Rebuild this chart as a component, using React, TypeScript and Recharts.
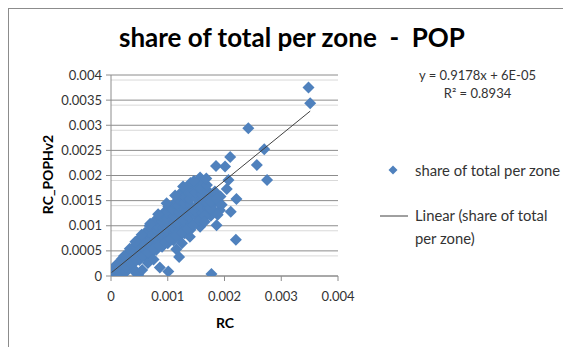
import React from 'react'
import {
  ScatterChart,
  Scatter,
  XAxis,
  YAxis,
  CartesianGrid,
  Legend
} from 'recharts'

// RC (x) and RC_POPHv2 (y) per zone
const rc = [
  0.1e-4, 0.3e-4, 0.2e-4, 0.5e-4, 0.6e-4, 1.0e-4, 1.1e-4, 0.9e-4, 1.3e-4, 2.0e-4,
  2.1e-4, 1.9e-4, 2.2e-4, 3.0e-4, 3.1e-4, 2.9e-4, 3.2e-4, 4.0e-4, 4.1e-4, 3.9e-4,
  4.2e-4, 3.9e-4, 4.8e-4, 5.0e-4, 5.1e-4, 4.9e-4, 5.2e-4, 5.0e-4, 6.0e-4, 6.1e-4,
  5.9e-4, 6.2e-4, 6.0e-4, 7.0e-4, 7.1e-4, 6.9e-4, 7.2e-4, 7.0e-4, 6.8e-4, 8.0e-4,
  8.1e-4, 7.9e-4, 8.2e-4, 8.0e-4, 7.9e-4, 8.6e-4, 9.0e-4, 9.1e-4, 8.9e-4, 9.2e-4,
  9.0e-4, 8.9e-4, 9.3e-4, 10.0e-4, 10.1e-4, 9.9e-4, 10.2e-4, 10.0e-4, 9.9e-4, 10.1e-4,
  10.1e-4, 11.0e-4, 11.1e-4, 10.9e-4, 11.2e-4, 11.0e-4, 10.9e-4, 11.1e-4, 11.5e-4, 12.0e-4,
  12.1e-4, 11.9e-4, 12.2e-4, 12.0e-4, 11.9e-4, 12.1e-4, 12.0e-4, 12.0e-4, 12.5e-4, 13.0e-4,
  13.1e-4, 12.9e-4, 13.2e-4, 13.0e-4, 12.9e-4, 13.1e-4, 13.0e-4, 14.0e-4, 14.1e-4, 13.9e-4,
  14.2e-4, 14.0e-4, 13.9e-4, 14.1e-4, 14.0e-4, 13.9e-4, 14.0e-4, 15.0e-4, 15.1e-4, 14.9e-4,
  15.2e-4, 15.0e-4, 14.9e-4, 15.1e-4, 15.7e-4, 15.7e-4, 16.0e-4, 16.1e-4, 15.9e-4, 16.2e-4,
  16.0e-4, 15.9e-4, 16.3e-4, 17.0e-4, 17.1e-4, 16.9e-4, 17.2e-4, 17.0e-4, 16.9e-4, 17.6e-4,
  18.0e-4, 18.1e-4, 17.9e-4, 18.3e-4, 18.6e-4, 18.5e-4, 17.7e-4, 19.2e-4, 19.0e-4, 19.3e-4,
  20.1e-4, 21.0e-4, 20.7e-4, 20.4e-4, 22.1e-4, 21.1e-4, 22.0e-4, 24.2e-4, 25.7e-4, 27.0e-4,
  27.5e-4, 34.8e-4, 35.1e-4, 1.6e-4, 2.6e-4, 4.4e-4, 5.5e-4, 6.5e-4, 7.5e-4,
  // upper fringe of the dense band
  6.9e-4, 9.8e-4, 12.7e-4, 11.3e-4, 8.3e-4, 5.4e-4, 4.3e-4, 3.3e-4, 2.3e-4, 1.4e-4,
  14.6e-4, 16.8e-4,
  // inside / lower part of the band
  2.5e-4, 3.5e-4, 4.5e-4, 5.5e-4, 6.5e-4, 7.5e-4, 8.5e-4, 9.5e-4, 10.5e-4, 11.5e-4,
  12.5e-4, 13.5e-4, 14.5e-4, 15.5e-4, 16.5e-4, 17.5e-4, 17.6e-4, 18.6e-4, 19.5e-4, 18.8e-4,
  16.5e-4
]

const popHv2 = [
  0.2e-4, 0.6e-4, 1.0e-4, 0.1e-4, 0.9e-4, 0.6e-4, 1.5e-4, 2.2e-4, 0.3e-4, 1.3e-4,
  2.4e-4, 3.4e-4, 0.5e-4, 1.9e-4, 3.0e-4, 4.2e-4, 4.8e-4, 2.6e-4, 3.7e-4, 4.9e-4,
  6.0e-4, 1.5e-4, 0.2e-4, 3.2e-4, 4.4e-4, 5.6e-4, 6.8e-4, 7.4e-4, 3.9e-4, 5.1e-4,
  6.3e-4, 7.5e-4, 8.6e-4, 4.5e-4, 5.8e-4, 7.0e-4, 8.2e-4, 9.4e-4, 10.0e-4, 5.2e-4,
  6.5e-4, 7.7e-4, 8.9e-4, 10.1e-4, 11.2e-4, 1.7e-4, 5.8e-4, 7.1e-4, 8.4e-4, 9.6e-4,
  10.8e-4, 12.0e-4, 12.6e-4, 6.5e-4, 7.8e-4, 9.0e-4, 10.2e-4, 11.4e-4, 12.6e-4, 13.8e-4,
  0.9e-4, 7.1e-4, 8.4e-4, 9.6e-4, 10.8e-4, 12.0e-4, 13.2e-4, 14.4e-4, 5.3e-4, 7.8e-4,
  9.1e-4, 10.3e-4, 11.5e-4, 12.7e-4, 13.9e-4, 15.1e-4, 16.2e-4, 3.8e-4, 6.5e-4, 8.5e-4,
  9.8e-4, 11.0e-4, 12.2e-4, 13.4e-4, 14.6e-4, 15.8e-4, 17.2e-4, 9.2e-4, 10.5e-4, 11.7e-4,
  12.9e-4, 14.1e-4, 15.3e-4, 16.5e-4, 17.7e-4, 7.8e-4, 18.5e-4, 10.6e-4, 11.8e-4, 13.0e-4,
  14.2e-4, 15.4e-4, 16.6e-4, 17.8e-4, 19.6e-4, 9.8e-4, 11.4e-4, 12.6e-4, 13.8e-4, 15.0e-4,
  16.2e-4, 17.4e-4, 18.6e-4, 12.2e-4, 13.4e-4, 14.6e-4, 15.8e-4, 17.0e-4, 18.1e-4, 12.0e-4,
  13.2e-4, 14.4e-4, 15.6e-4, 16.8e-4, 10.1e-4, 21.9e-4, 0.4e-4, 13.1e-4, 14.6e-4, 15.8e-4,
  21.8e-4, 23.7e-4, 19.1e-4, 17.3e-4, 15.3e-4, 12.8e-4, 7.2e-4, 29.4e-4, 22.1e-4, 25.2e-4,
  19.1e-4, 37.5e-4, 34.4e-4, 0.1e-4, 0.8e-4, 0.6e-4, 1.2e-4, 2.6e-4, 3.3e-4,
  10.4e-4, 14.5e-4, 17.8e-4, 16.0e-4, 12.3e-4, 8.2e-4, 6.8e-4, 5.4e-4, 4.0e-4, 2.6e-4,
  18.9e-4, 19.4e-4,
  1.8e-4, 2.5e-4, 3.2e-4, 4.0e-4, 4.7e-4, 5.3e-4, 6.0e-4, 6.6e-4, 7.3e-4, 8.0e-4,
  8.7e-4, 9.4e-4, 10.1e-4, 11.0e-4, 12.0e-4, 13.5e-4, 14.8e-4, 15.3e-4, 14.2e-4, 12.2e-4,
  10.8e-4
]

const xTicks = [0, 0.001, 0.002, 0.003, 0.004]
const yTicks = [0, 0.0005, 0.001, 0.0015, 0.002, 0.0025, 0.003, 0.0035, 0.004]
const yMinor = [
  0.0001, 0.0002, 0.0003, 0.0004, 0.0006, 0.0007, 0.0008, 0.0009,
  0.0011, 0.0012, 0.0013, 0.0014, 0.0016, 0.0017, 0.0018, 0.0019,
  0.0021, 0.0022, 0.0023, 0.0024, 0.0026, 0.0027, 0.0028, 0.0029,
  0.0031, 0.0032, 0.0033, 0.0034, 0.0036, 0.0037, 0.0038, 0.0039
]

const slope = 0.9178
const intercept = 6e-5

const BLUE = '#4f81bd'
const TEXT = '#333'

const points = rc.map((x, i) => ({ x, y: popHv2[i] }))
const xMin = Math.min(...rc)
const xMax = Math.max(...rc)
const trend = [
  { x: xMin, y: slope * xMin + intercept },
  { x: xMax, y: slope * xMax + intercept }
]

function Diamond({ cx, cy }: { cx?: number; cy?: number }): React.JSX.Element | null {
  if (cx == null || cy == null) return null
  const r = 6
  return (
    <polygon
      points={`${cx},${cy - r} ${cx + r},${cy} ${cx},${cy + r} ${cx - r},${cy}`}
      fill={BLUE}
    />
  )
}

function LegendBox(): React.JSX.Element {
  return (
    <div style={{ position: 'relative', width: 200, height: 95, fontSize: 14.8, color: TEXT }}>
      <svg width={36} height={95} style={{ position: 'absolute', left: 0, top: 0 }}>
        <polygon points="18,2.5 22.5,7 18,11.5 13.5,7" fill={BLUE} />
        <line x1={5} y1={53} x2={33} y2={53} stroke="#404040" strokeWidth={1} />
      </svg>
      <div style={{ position: 'absolute', left: 40, top: -2, whiteSpace: 'nowrap' }}>
        share of total per zone
      </div>
      <div style={{ position: 'absolute', left: 40, top: 41, lineHeight: '23px', whiteSpace: 'nowrap' }}>
        Linear (share of total<br />per zone)
      </div>
    </div>
  )
}

export default function App(): React.JSX.Element {
  return (
    <div
      style={{
        position: 'relative',
        width: 563,
        height: 339,
        boxSizing: 'border-box',
        borderTop: '1px solid #8c8c8c',
        borderLeft: '1px solid #8c8c8c',
        fontFamily: 'Lato, sans-serif',
        overflow: 'hidden'
      }}
    >
      {/* Title */}
      <div
        style={{
          position: 'absolute',
          left: 0,
          width: 566,
          top: 12,
          textAlign: 'center',
          fontSize: 26,
          fontWeight: 'bold',
          color: '#000',
          whiteSpace: 'pre'
        }}
      >
        {'share of total per zone  -  POP'}
      </div>

      <div style={{ position: 'absolute', left: 0, top: 0 }}>
        <ScatterChart
          width={562}
          height={338}
          margin={{ top: 66, right: 233, bottom: 41, left: 42 }}
        >
          <CartesianGrid
            horizontal
            vertical={false}
            horizontalValues={yMinor}
            stroke="#d9d9d9"
          />
          <CartesianGrid
            horizontal
            vertical={false}
            horizontalValues={yTicks}
            stroke="#8c8c8c"
          />
          <XAxis
            type="number"
            dataKey="x"
            domain={[0, 0.004]}
            ticks={xTicks}
            height={30}
            tickSize={5}
            tickMargin={11}
            stroke="#8c8c8c"
            tick={{ fill: TEXT, fontSize: 13 }}
            allowDataOverflow
          />
          <YAxis
            type="number"
            dataKey="y"
            domain={[0, 0.004]}
            ticks={yTicks}
            width={60}
            tickSize={5}
            tickMargin={4}
            stroke="#8c8c8c"
            tick={{ fill: TEXT, fontSize: 13 }}
            allowDataOverflow
          />
          <Legend
            verticalAlign="middle"
            align="center"
            layout="horizontal"
            wrapperStyle={{ left: 366, top: 154, width: 200 }}
            content={() => <LegendBox />}
          />
          <Scatter
            name="share of total per zone"
            data={points}
            fill={BLUE}
            shape={<Diamond />}
            isAnimationActive={false}
          />
          <Scatter
            name="Linear (share of total per zone)"
            data={trend}
            line={{ stroke: '#404040', strokeWidth: 1 }}
            shape={() => <g />}
            isAnimationActive={false}
          />
        </ScatterChart>
      </div>

      {/* Trendline equation */}
      <div
        style={{
          position: 'absolute',
          left: 406,
          width: 125,
          top: 57,
          textAlign: 'center',
          fontSize: 13,
          lineHeight: '18px',
          color: TEXT,
          whiteSpace: 'nowrap'
        }}
      >
        y = 0.9178x + 6E-05
        <br />
        R² = 0.8934
      </div>

      {/* Axis titles */}
      <div
        style={{
          position: 'absolute',
          left: 216 - 30,
          width: 60,
          top: 305,
          textAlign: 'center',
          fontSize: 14,
          fontWeight: 'bold',
          color: '#000'
        }}
      >
        RC
      </div>
      <div
        style={{
          position: 'absolute',
          left: 38 - 50,
          top: 166 - 9,
          width: 100,
          textAlign: 'center',
          fontSize: 14,
          fontWeight: 'bold',
          color: '#000',
          transform: 'rotate(-90deg)'
        }}
      >
        RC_POPHv2
      </div>
    </div>
  )
}
